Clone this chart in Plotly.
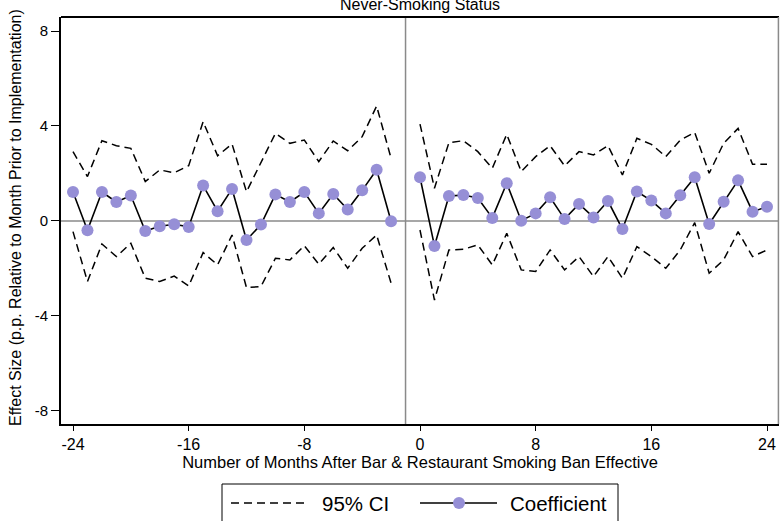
import plotly.graph_objects as go

# ---- data ----
months_pre = [-24, -23, -22, -21, -20, -19, -18, -17, -16, -15, -14, -13,
              -12, -11, -10, -9, -8, -7, -6, -5, -4, -3, -2]
coef_pre = [1.22, -0.39, 1.22, 0.80, 1.07, -0.42, -0.22, -0.14, -0.25, 1.49, 0.41, 1.35,
            -0.80, -0.15, 1.12, 0.80, 1.22, 0.32, 1.14, 0.48, 1.29, 2.16, -0.01]
upper_pre = [2.92, 1.87, 3.38, 3.17, 3.06, 1.66, 2.15, 2.03, 2.33, 4.18, 2.75, 3.24,
             1.23, 2.43, 3.69, 3.27, 3.41, 2.50, 3.37, 2.96, 3.55, 4.84, 2.64]
lower_pre = [-0.45, -2.55, -0.97, -1.50, -0.94, -2.41, -2.55, -2.32, -2.74, -1.33, -1.85, -0.59,
             -2.81, -2.76, -1.57, -1.64, -1.04, -1.82, -1.12, -1.99, -1.15, -0.59, -2.62]

months_post = [0, 1, 2, 3, 4, 5, 6, 7, 8, 9, 10, 11, 12,
               13, 14, 15, 16, 17, 18, 19, 20, 21, 22, 23, 24]
coef_post = [1.84, -1.05, 1.05, 1.09, 0.97, 0.13, 1.59, 0.01, 0.32, 1.00, 0.08, 0.72, 0.15,
             0.84, -0.34, 1.24, 0.86, 0.32, 1.08, 1.84, -0.13, 0.81, 1.71, 0.39, 0.60]
upper_post = [4.08, 1.38, 3.30, 3.38, 2.92, 2.22, 3.65, 2.08, 2.71, 3.17, 2.32, 2.92, 2.78,
              3.17, 1.94, 3.48, 3.23, 2.71, 3.41, 3.73, 2.01, 3.27, 3.90, 2.39, 2.39]
lower_post = [-0.38, -3.33, -1.22, -1.19, -1.01, -1.85, -0.52, -2.06, -2.13, -1.22, -2.06, -1.50, -2.34,
              -1.50, -2.41, -1.08, -1.50, -1.99, -1.22, -0.07, -2.20, -1.64, -0.45, -1.50, -1.22]

x_ticks = [-24, -16, -8, 0, 8, 16, 24]
y_ticks = [-8, -4, 0, 4, 8]

title_text = "Never-Smoking Status"
x_title = "Number of Months After Bar &amp; Restaurant Smoking Ban Effective"
y_title = "Effect Size (p.p. Relative to Month Prior to Implementation)"
legend_labels = ["95% CI", "Coefficient"]

# ---- styles ----
FONT = "Arial, 'Liberation Sans', sans-serif"
MARKER_COLOR = "#968fd6"
DASH = "8px,5px"
REF_GRAY = "#8a8a8a"

fig = go.Figure()

for xs, up, lo in [(months_pre, upper_pre, lower_pre), (months_post, upper_post, lower_post)]:
    for ys in (up, lo):
        fig.add_trace(go.Scatter(x=xs, y=ys, mode="lines",
                                 line=dict(color="black", width=1.5, dash=DASH),
                                 showlegend=False, hoverinfo="skip"))

for xs, ys in [(months_pre, coef_pre), (months_post, coef_post)]:
    fig.add_trace(go.Scatter(x=xs, y=ys, mode="lines+markers",
                             line=dict(color="black", width=1.6),
                             marker=dict(color=MARKER_COLOR, size=12),
                             showlegend=False))

shapes = [
    dict(type="line", xref="paper", yref="y", x0=0, x1=1, y0=0, y1=0,
         line=dict(color=REF_GRAY, width=1.5), layer="below"),
    dict(type="line", xref="x", yref="paper", x0=-1, x1=-1, y0=0, y1=1,
         line=dict(color=REF_GRAY, width=1.5), layer="below"),
    # plot-region frame: black top, gray right
    dict(type="line", xref="paper", yref="paper", x0=0, x1=1, y0=1, y1=1,
         line=dict(color="black", width=2)),
    dict(type="line", xref="paper", yref="paper", x0=0.9992, x1=0.9992, y0=0, y1=1,
         line=dict(color=REF_GRAY, width=1.5)),
]

# manual legend (paper coords: plot area 718 x 407 px, origin at (61, 424))
def px(xp):
    return (xp - 61) / 718.0

def py(yp):
    return (424 - yp) / 407.0

shapes += [
    dict(type="rect", xref="paper", yref="paper", x0=px(222), x1=px(618), y0=py(484), y1=py(523),
         line=dict(color="black", width=1), fillcolor="white"),
    dict(type="line", xref="paper", yref="paper", x0=px(231), x1=px(304), y0=py(503), y1=py(503),
         line=dict(color="black", width=1.5, dash=DASH)),
    dict(type="line", xref="paper", yref="paper", x0=px(420), x1=px(497), y0=py(503), y1=py(503),
         line=dict(color="black", width=1.6)),
    dict(type="circle", xref="paper", yref="paper", x0=px(453), x1=px(465), y0=py(497), y1=py(509),
         line=dict(color=MARKER_COLOR, width=0), fillcolor=MARKER_COLOR),
]

annotations = [
    dict(text=title_text, xref="paper", yref="paper", x=0.5, y=py(5), xanchor="center",
         yanchor="middle", showarrow=False, font=dict(size=16, color="black", family=FONT)),
    dict(text=y_title, xref="paper", yref="paper", x=px(15), y=py(218),
         xanchor="center", yanchor="middle", textangle=-90, showarrow=False,
         font=dict(size=16, color="black", family=FONT)),
    dict(text=legend_labels[0], xref="paper", yref="paper", x=px(320), y=py(503), xanchor="left",
         yanchor="middle", showarrow=False, font=dict(size=20.5, color="black", family=FONT)),
    dict(text=legend_labels[1], xref="paper", yref="paper", x=px(508), y=py(503), xanchor="left",
         yanchor="middle", showarrow=False, font=dict(size=20.5, color="black", family=FONT)),
]

fig.update_layout(
    width=780, height=521,
    margin=dict(l=61, r=1, t=17, b=97, autoexpand=False),
    paper_bgcolor="white", plot_bgcolor="white",
    font=dict(family=FONT, color="black", size=15),
    showlegend=False,
    shapes=shapes,
    annotations=annotations,
    xaxis=dict(range=[-24.83, 24.83], tickvals=x_ticks, ticktext=[str(v) for v in x_ticks],
               showgrid=False, zeroline=False, showline=True, linecolor="black", linewidth=2,
               ticks="outside", ticklen=5, tickwidth=1, tickcolor="black",
               tickfont=dict(size=16),
               title=dict(text=x_title, font=dict(size=16.5), standoff=2)),
    yaxis=dict(range=[-8.55, 8.59], tickvals=y_ticks, ticktext=[str(v) for v in y_ticks],
               showgrid=False, zeroline=False, showline=True, linecolor="black", linewidth=2,
               ticks="outside", ticklen=8, tickwidth=1, tickcolor="black",
               tickfont=dict(size=15)),
)

fig.write_html("out.html", config={"displayModeBar": False},
               post_script="document.body.style.margin='0';")
